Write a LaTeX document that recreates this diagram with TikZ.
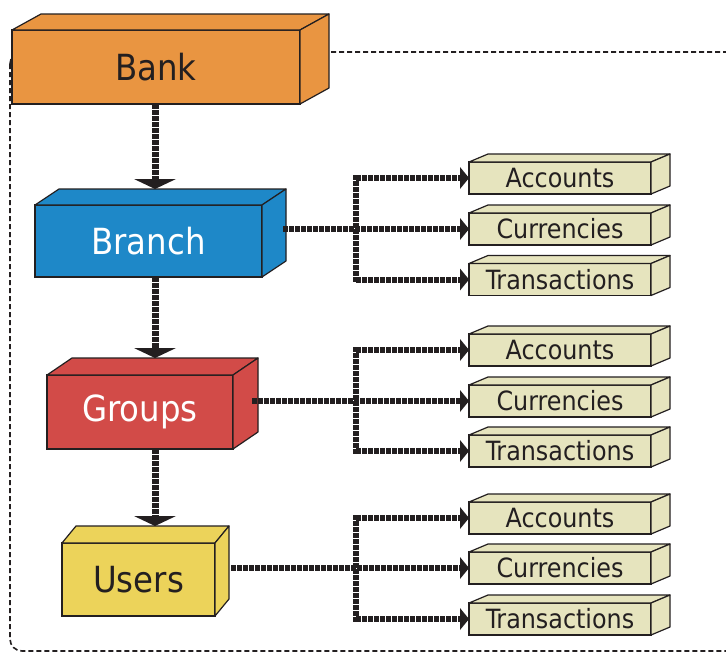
\documentclass[tikz,border=0pt]{standalone}
\usepackage{fontspec}
\setmainfont{DejaVu Sans Condensed}
\usetikzlibrary{arrows.meta,calc}
\definecolor{bankc}{HTML}{E99541}
\definecolor{branchc}{HTML}{1E88C8}
\definecolor{groupc}{HTML}{D24B48}
\definecolor{userc}{HTML}{ECD35A}
\definecolor{smallc}{HTML}{E6E4BE}
\definecolor{ink}{HTML}{231F20}
\newcommand{\drawcube}[4]{%
  \filldraw[fill=#4, draw=ink, line width=1.2pt, line join=round] (#1.north west) -- ++(#2,#3) -- ($(#1.north east)+(#2,#3)$) -- (#1.north east) -- cycle;
  \filldraw[fill=#4, draw=ink, line width=1.2pt, line join=round] (#1.north east) -- ++(#2,#3) -- ($(#1.south east)+(#2,#3)$) -- (#1.south east) -- cycle;}
\begin{document}
\begin{tikzpicture}[x=1pt,y=-1pt,
  bigbox/.style={draw=ink, line width=1.2pt, outer sep=0pt, inner sep=0pt, font=\fontsize{36}{40}\selectfont},
  smallbox/.style={draw=ink, line width=1.2pt, outer sep=0pt, inner sep=0pt, fill=smallc, minimum width=182pt, minimum height=32pt, font=\fontsize{26.5}{28}\selectfont, text=ink},
  vconn/.style={draw=ink, line width=7pt, dash pattern=on 4.5pt off 1.5pt, -{Triangle[width=42pt,length=10pt,line width=0pt]}},
  hconn/.style={draw=ink, line width=6pt, dash pattern=on 4.5pt off 1.5pt, -{Triangle[width=22pt,length=9pt,line width=0pt]}},
  tree/.style={draw=ink, line width=6pt, dash pattern=on 4.5pt off 1.5pt},
  frame/.style={draw=ink, line width=1.6pt, dash pattern=on 5pt off 3pt, rounded corners=12pt}]
\useasboundingbox (0,0) rectangle (726,651);
\fill[white] (0,0) rectangle (726,651);
% outer dashed frame
\draw[frame] (10,52) rectangle (760,651);
% main boxes
\node[bigbox, fill=bankc, minimum width=288pt, minimum height=74pt, text=ink] (bank) at (156,67) {Bank};
\drawcube{bank}{29}{-16}{bankc}
\node[bigbox, fill=branchc, minimum width=227pt, minimum height=72pt, text=white] (branch) at (148.5,241) {Branch};
\drawcube{branch}{24}{-16}{branchc}
\node[bigbox, fill=groupc, minimum width=186pt, minimum height=74pt, text=white] (groups) at (140,412) {Groups};
\drawcube{groups}{25}{-17}{groupc}
\node[bigbox, fill=userc, minimum width=153pt, minimum height=73pt, text=ink] (users) at (138.5,579.5) {Users};
\drawcube{users}{14}{-17}{userc}
% small boxes
\foreach \n/\t/\y in {a1/Accounts/178, c1/Currencies/229, t1/Transactions/279.5,
                      a2/Accounts/350, c2/Currencies/401, t2/Transactions/451,
                      a3/Accounts/518, c3/Currencies/568, t3/Transactions/619}{
  \node[smallbox] (\n) at (560,\y) {\t};
  \drawcube{\n}{19}{-8}{smallc}
}
% vertical spine connectors
\coordinate (spine) at (155,0);
\coordinate (brtop) at ([yshift=16pt]branch.north);
\coordinate (grtop) at ([yshift=17pt]groups.north);
\coordinate (ustop) at ([yshift=17pt]users.north);
\draw[vconn] (spine |- bank.south) -- (spine |- brtop);
\draw[vconn] (spine |- branch.south) -- (spine |- grtop);
\draw[vconn] (spine |- groups.south) -- (spine |- ustop);
% branch tree
\coordinate (j1) at (356,0);
\coordinate (s1) at (283,0);
\draw[tree] ([yshift=3pt]j1 |- a1.west) -- ([yshift=-3pt]j1 |- t1.west);
\draw[hconn] (s1 |- c1.west) -- (c1.west);
\draw[hconn] (j1 |- a1.west) -- (a1.west);
\draw[hconn] (j1 |- t1.west) -- (t1.west);
% groups tree
\coordinate (s2) at (252,0);
\draw[tree] ([yshift=3pt]j1 |- a2.west) -- ([yshift=-3pt]j1 |- t2.west);
\draw[hconn] (s2 |- c2.west) -- (c2.west);
\draw[hconn] (j1 |- a2.west) -- (a2.west);
\draw[hconn] (j1 |- t2.west) -- (t2.west);
% users tree
\coordinate (s3) at (231,0);
\draw[tree] ([yshift=3pt]j1 |- a3.west) -- ([yshift=-3pt]j1 |- t3.west);
\draw[hconn] (s3 |- c3.west) -- (c3.west);
\draw[hconn] (j1 |- a3.west) -- (a3.west);
\draw[hconn] (j1 |- t3.west) -- (t3.west);
\end{tikzpicture}
\end{document}
